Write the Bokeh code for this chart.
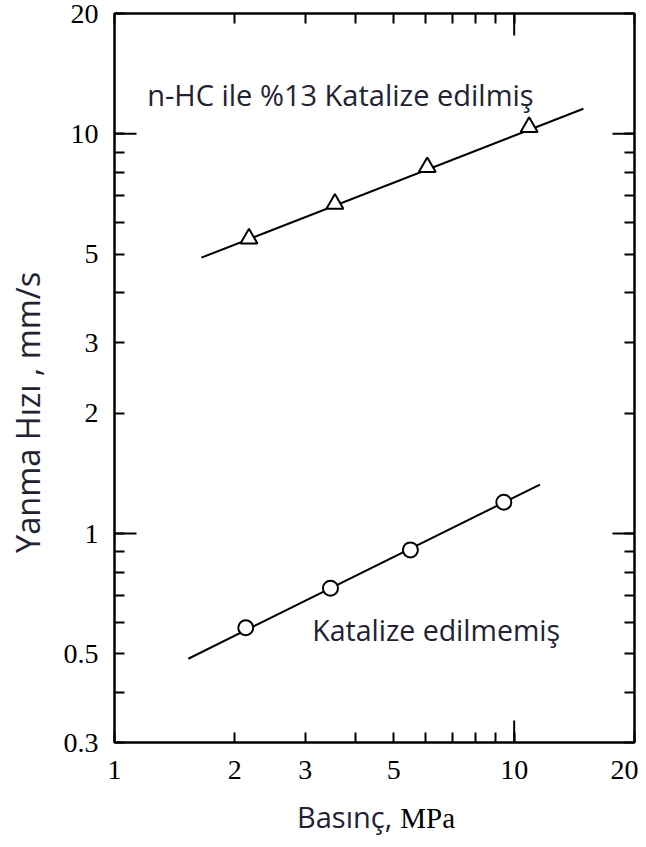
from math import pi
from bokeh.plotting import figure
from bokeh.layouts import column, row
from bokeh.models import (Range1d, FixedTicker, LogAxis, CustomJSTickFormatter,
                          Label, Div)
from bokeh.embed import file_html
from bokeh.resources import INLINE

# ---- data ----
cat_p = [2.17, 3.56, 6.06, 10.9]          # Basınç (MPa), catalysed
cat_r = [5.47, 6.68, 8.25, 10.4]          # Yanma hızı (mm/s)
cat_fit_p = [1.65, 14.9]
cat_fit_r = [4.90, 11.55]

unc_p = [2.13, 3.47, 5.50, 9.42]          # uncatalysed
unc_r = [0.581, 0.730, 0.910, 1.198]
unc_fit_p = [1.53, 11.6]
unc_fit_r = [0.486, 1.326]

x_labeled = [1, 2, 3, 5, 10, 20]
x_minor = [4, 6, 7, 8, 9]
y_labeled = [0.3, 0.5, 1, 2, 3, 5, 10, 20]
y_minor = [0.4, 0.6, 0.7, 0.8, 0.9, 4, 6, 7, 8, 9]
decades = [1, 10]

X0, X1 = 1, 20
Y0, Y1 = 0.3, 20

INK = "#222233"
SERIF = "Liberation Serif"
SANS = "Open Sans"

YDIV_W = 50
FIG_W = 588
FIG_H = 790

p = figure(width=FIG_W, height=FIG_H, x_axis_type="log", y_axis_type="log",
           x_range=Range1d(X0, X1), y_range=Range1d(Y0, Y1),
           output_backend="svg", toolbar_location=None,
           min_border_left=114 - YDIV_W, min_border_right=4, min_border_top=13,
           min_border_bottom=48)
p.grid.visible = False
p.outline_line_color = "black"
p.outline_line_width = 2
p.background_fill_color = "white"
p.border_fill_color = "white"

fmt = CustomJSTickFormatter(code="return String(Math.round(tick*10)/10);")


def style(ax, labels=True):
    ax.axis_line_width = 2
    ax.axis_line_color = "black"
    ax.major_tick_in = 10
    ax.major_tick_out = 0
    ax.minor_tick_in = 10
    ax.minor_tick_out = 0
    ax.major_tick_line_width = 2
    ax.minor_tick_line_width = 2
    ax.major_tick_line_color = "black"
    ax.minor_tick_line_color = "black"
    if labels:
        ax.formatter = fmt
        ax.major_label_text_font = SERIF
        ax.major_label_text_font_size = "28px"
        ax.major_label_text_color = "black"
    else:
        ax.major_label_text_font_size = "1px"
        ax.major_label_text_color = None
        ax.major_label_standoff = 0


xb = p.xaxis[0]
xb.ticker = FixedTicker(ticks=x_labeled, minor_ticks=x_minor)
style(xb)
xb.major_label_standoff = 18

yl = p.yaxis[0]
yl.ticker = FixedTicker(ticks=y_labeled, minor_ticks=y_minor)
style(yl)
yl.major_label_standoff = 16

xt = LogAxis(ticker=FixedTicker(ticks=x_labeled, minor_ticks=x_minor))
style(xt, labels=False)
p.add_layout(xt, "above")

yr = LogAxis(ticker=FixedTicker(ticks=y_labeled, minor_ticks=y_minor))
style(yr, labels=False)
p.add_layout(yr, "right")

# long ticks at the decades (half of each dash is clipped by the frame)
bx = [d for d in decades if X0 < d < X1]
p.scatter(bx + bx, [Y0] * len(bx) + [Y1] * len(bx), marker="dash", size=44,
          angle=pi / 2, line_color="black", line_width=2)
by = [d for d in decades if Y0 < d < Y1]
p.scatter([X0] * len(by) + [X1] * len(by), by + by, marker="dash", size=44,
          line_color="black", line_width=2)

# fit lines
p.line(cat_fit_p, cat_fit_r, line_color="black", line_width=2)
p.line(unc_fit_p, unc_fit_r, line_color="black", line_width=2)

# points
p.scatter(cat_p, cat_r, marker="triangle", size=17, fill_color="white",
          line_color="black", line_width=2)
p.scatter(unc_p, unc_r, marker="circle", size=15, fill_color="white",
          line_color="black", line_width=2)

# annotations
p.add_layout(Label(x=1.207, y=12.54, text="n-HC ile %13 Katalize edilmiş",
                   text_font=SANS, text_font_size="29px", text_color=INK,
                   text_align="left", text_baseline="alphabetic"))
p.add_layout(Label(x=3.124, y=0.573, text="Katalize edilmemiş",
                   text_font=SANS, text_font_size="28.5px", text_color=INK,
                   text_align="left", text_baseline="alphabetic"))

# y axis title (rotated, placed a little below the frame centre as in the original)
ylabel = Div(
    text=('<div style="position:relative;width:%dpx;height:%dpx;">'
          '<div style="position:absolute;left:12px;top:553px;'
          'transform:rotate(-90deg);transform-origin:0 0;white-space:nowrap;'
          'font-family:\'Open Sans\';font-size:32.5px;line-height:1;color:%s">'
          'Yanma Hızı , mm/s</div></div>') % (YDIV_W, FIG_H, INK),
    width=YDIV_W, height=FIG_H, margin=0)

# x axis title (mixed fonts, as in the original)
xlabel = Div(
    text=('<div style="margin-left:%dpx;padding-top:10px;font-size:29px;'
          'line-height:1.15;white-space:nowrap;color:%s">'
          '<span style="font-family:\'Open Sans\'">Basınç,</span> '
          '<span style="font-family:\'Liberation Serif\';color:black">MPa</span>'
          '</div>') % (297 - YDIV_W, INK),
    width=FIG_W, height=50, margin=0)

layout = row(ylabel, column(p, xlabel, spacing=0), spacing=0)
open("out.html", "w").write(file_html(layout, INLINE))
